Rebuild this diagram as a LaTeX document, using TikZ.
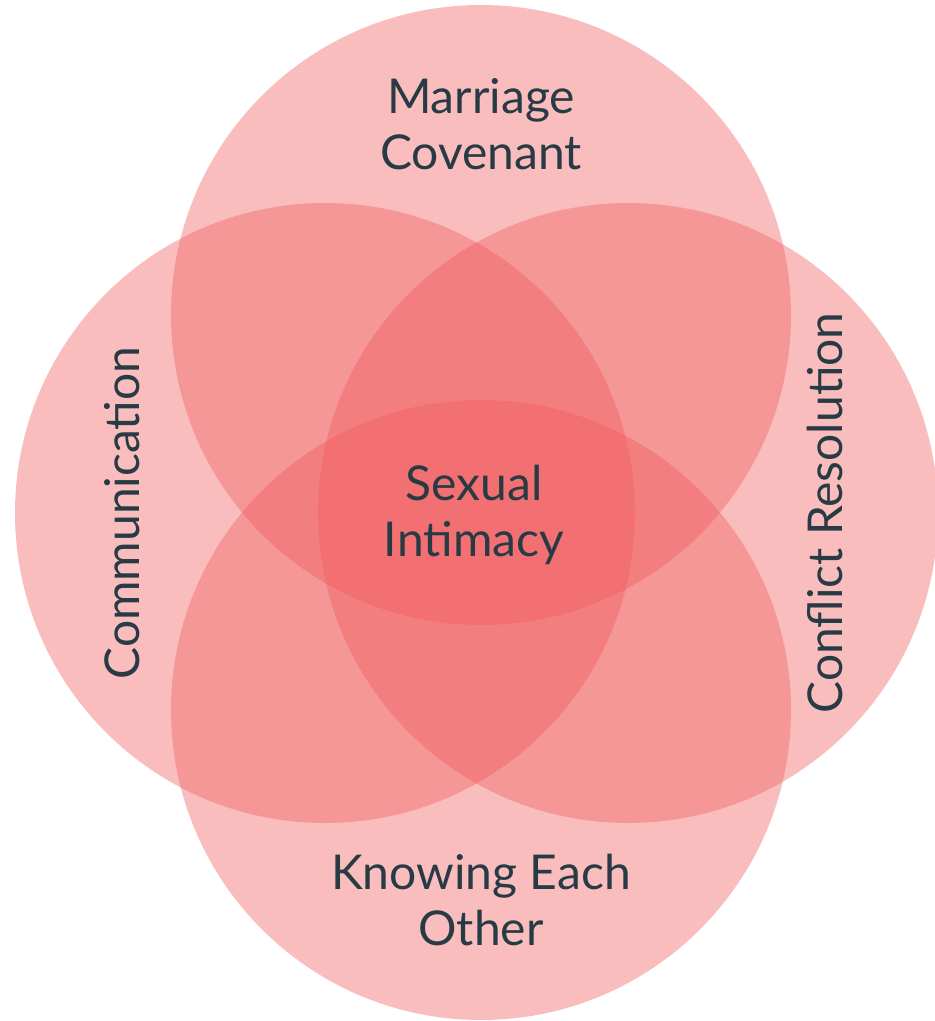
\documentclass[tikz,border=0pt]{standalone}
\usepackage{fontspec}
\setmainfont{Lato}
\definecolor{petal}{RGB}{240,90,93}
\definecolor{ink}{RGB}{40,58,68}
\begin{document}
\begin{tikzpicture}[x=1pt,y=-1pt,
  petalcircle/.style={circle,fill=petal,fill opacity=0.4,draw=none,minimum size=620pt,inner sep=0pt},
  lbl/.style={text=ink,font=\fontsize{48}{56}\selectfont,align=center,inner sep=0pt}]
\useasboundingbox (0,0) rectangle (935,1021);
\node[petalcircle] (top) at (481,315) {};
\node[petalcircle] (left) at (325,513) {};
\node[petalcircle] (right) at (628,513) {};
\node[petalcircle] (bottom) at (481,710) {};
\node[lbl] (tl) at (481,124) {Marriage\\Covenant};
\node[lbl] (cl) at (474,515) {Sexual\\Intimacy};
\node[lbl,rotate=90] (ll) at (122,513) {Communication};
\node[lbl,rotate=90] (rl) at (825,513) {Conflict Resolution};
\node[lbl] (bl) at (481,900) {Knowing Each\\Other};
\end{tikzpicture}
\end{document}
